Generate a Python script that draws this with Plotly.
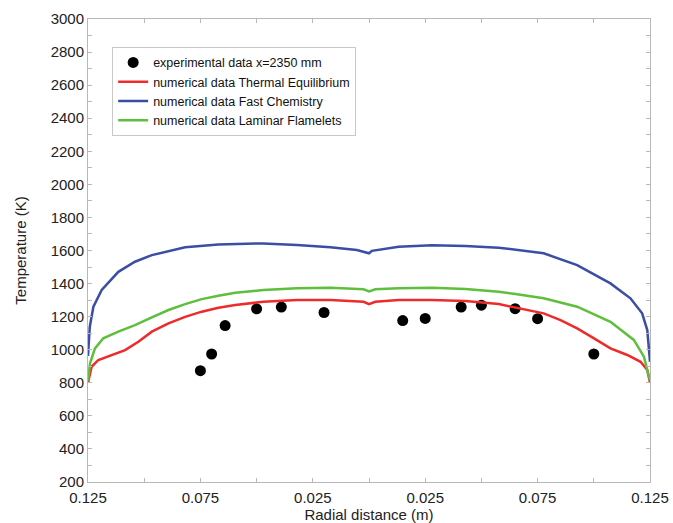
import plotly.graph_objects as go

# Measured radial temperature profile at x = 2350 mm
exp_r = [-0.075, -0.070, -0.064, -0.050, -0.039, -0.020,
         0.015, 0.025, 0.041, 0.050, 0.065, 0.075, 0.100]
exp_T = [873, 974, 1146, 1247, 1258, 1225,
         1176, 1189, 1258, 1269, 1248, 1188, 974]

# Thermal equilibrium model
eq_r = [-0.125, -0.1234, -0.1204, -0.1144, -0.1085, -0.1026, -0.0966, -0.0892,
        -0.0818, -0.0744, -0.067, -0.0595, -0.047, -0.032, -0.0172, -0.0024,
        0.0, 0.0028, 0.0132, 0.028, 0.0429, 0.0577, 0.0651, 0.0777, 0.0852,
        0.0926, 0.1001, 0.1074, 0.1149, 0.1208, 0.1238, 0.125]
eq_T = [800, 897, 938, 968, 998, 1048, 1109, 1159,
        1199, 1230, 1254, 1270, 1290, 1300, 1300, 1290,
        1276, 1290, 1300, 1300, 1294, 1276, 1256, 1220, 1179,
        1129, 1069, 1008, 968, 927, 877, 800]

# Fast chemistry model
fc_r = [-0.125, -0.1242, -0.1226, -0.1189, -0.1115, -0.1041, -0.0966, -0.0818,
        -0.067, -0.047, -0.032, -0.0172, -0.0054, 0.0, 0.0013, 0.0132, 0.028,
        0.0429, 0.0577, 0.0777, 0.0926, 0.1074, 0.1163, 0.1215, 0.1238, 0.125]
fc_T = [962, 1139, 1260, 1361, 1471, 1532, 1572, 1619,
        1637, 1643, 1633, 1619, 1603, 1583, 1598, 1623, 1631,
        1627, 1617, 1583, 1512, 1401, 1311, 1220, 1119, 927]

# Laminar flamelet model
lf_r = [-0.125, -0.1241, -0.1219, -0.1182, -0.1115, -0.1041, -0.0966, -0.0892,
        -0.0818, -0.0744, -0.067, -0.0595, -0.047, -0.032, -0.0172, -0.0024,
        0.0, 0.0028, 0.0132, 0.028, 0.0429, 0.0577, 0.0651, 0.0777, 0.0926,
        0.1074, 0.1178, 0.1223, 0.125]
lf_T = [812, 918, 1008, 1069, 1109, 1149, 1196, 1240,
        1276, 1306, 1326, 1345, 1361, 1371, 1375, 1365,
        1353, 1365, 1371, 1375, 1367, 1351, 1337, 1311, 1260,
        1169, 1059, 958, 812]

x_tickvals = [-0.125, -0.075, -0.025, 0.025, 0.075, 0.125]
x_ticktext = ["0.125", "0.075", "0.025", "0.025", "0.075", "0.125"]
y_tickvals = list(range(200, 3001, 200))

FONT = "Liberation Sans, Arial, Helvetica, sans-serif"

fig = go.Figure()
fig.add_trace(go.Scatter(
    x=exp_r, y=exp_T, mode="markers", name="experimental data x=2350 mm",
    marker=dict(color="black", size=11)))
fig.add_trace(go.Scatter(
    x=eq_r, y=eq_T, mode="lines", name="numerical data Thermal Equilibrium",
    line=dict(color="#ee2b2b", width=2.5)))
fig.add_trace(go.Scatter(
    x=fc_r, y=fc_T, mode="lines", name="numerical data Fast Chemistry",
    line=dict(color="#3b4ea6", width=2.5)))
fig.add_trace(go.Scatter(
    x=lf_r, y=lf_T, mode="lines", name="numerical data Laminar Flamelets",
    line=dict(color="#5dbf3c", width=2.5)))

axis_common = dict(
    showgrid=False, zeroline=False, showline=True, linecolor="#b8b8b8",
    linewidth=1, mirror="ticks", ticks="inside", ticklen=4, tickcolor="#b8b8b8",
    tickfont=dict(family=FONT, size=15, color="#222"), automargin=False,
)

fig.update_xaxes(
    range=[-0.125, 0.125], tickvals=x_tickvals, ticktext=x_ticktext,
    minor=dict(dtick=0.025, tick0=-0.125, ticks="inside", ticklen=4, tickcolor="#b8b8b8"),
    ticklabelstandoff=2,
    title=dict(text="Radial distance (m)", font=dict(family=FONT, size=15, color="#222"),
               standoff=0),
    **axis_common)
fig.update_yaxes(
    range=[200, 3000], tickvals=y_tickvals,
    minor=dict(dtick=100, tick0=200, ticks="inside", ticklen=4, tickcolor="#b8b8b8"),
    title=dict(text="Temperature (K)", font=dict(family=FONT, size=15, color="#222"),
               standoff=20),
    **axis_common)

fig.update_layout(
    width=673, height=523,
    margin=dict(l=88, r=23, t=19, b=41),
    paper_bgcolor="white", plot_bgcolor="white",
    font=dict(family=FONT, color="#222"),
    legend=dict(
        x=0.043, y=0.94, xanchor="left", yanchor="top",
        bgcolor="white", bordercolor="#c8c8c8", borderwidth=1,
        font=dict(family=FONT, size=12.5, color="#111"),
        itemwidth=30, tracegroupgap=0,
    ),
    showlegend=True,
)

fig.write_html("out.html")
